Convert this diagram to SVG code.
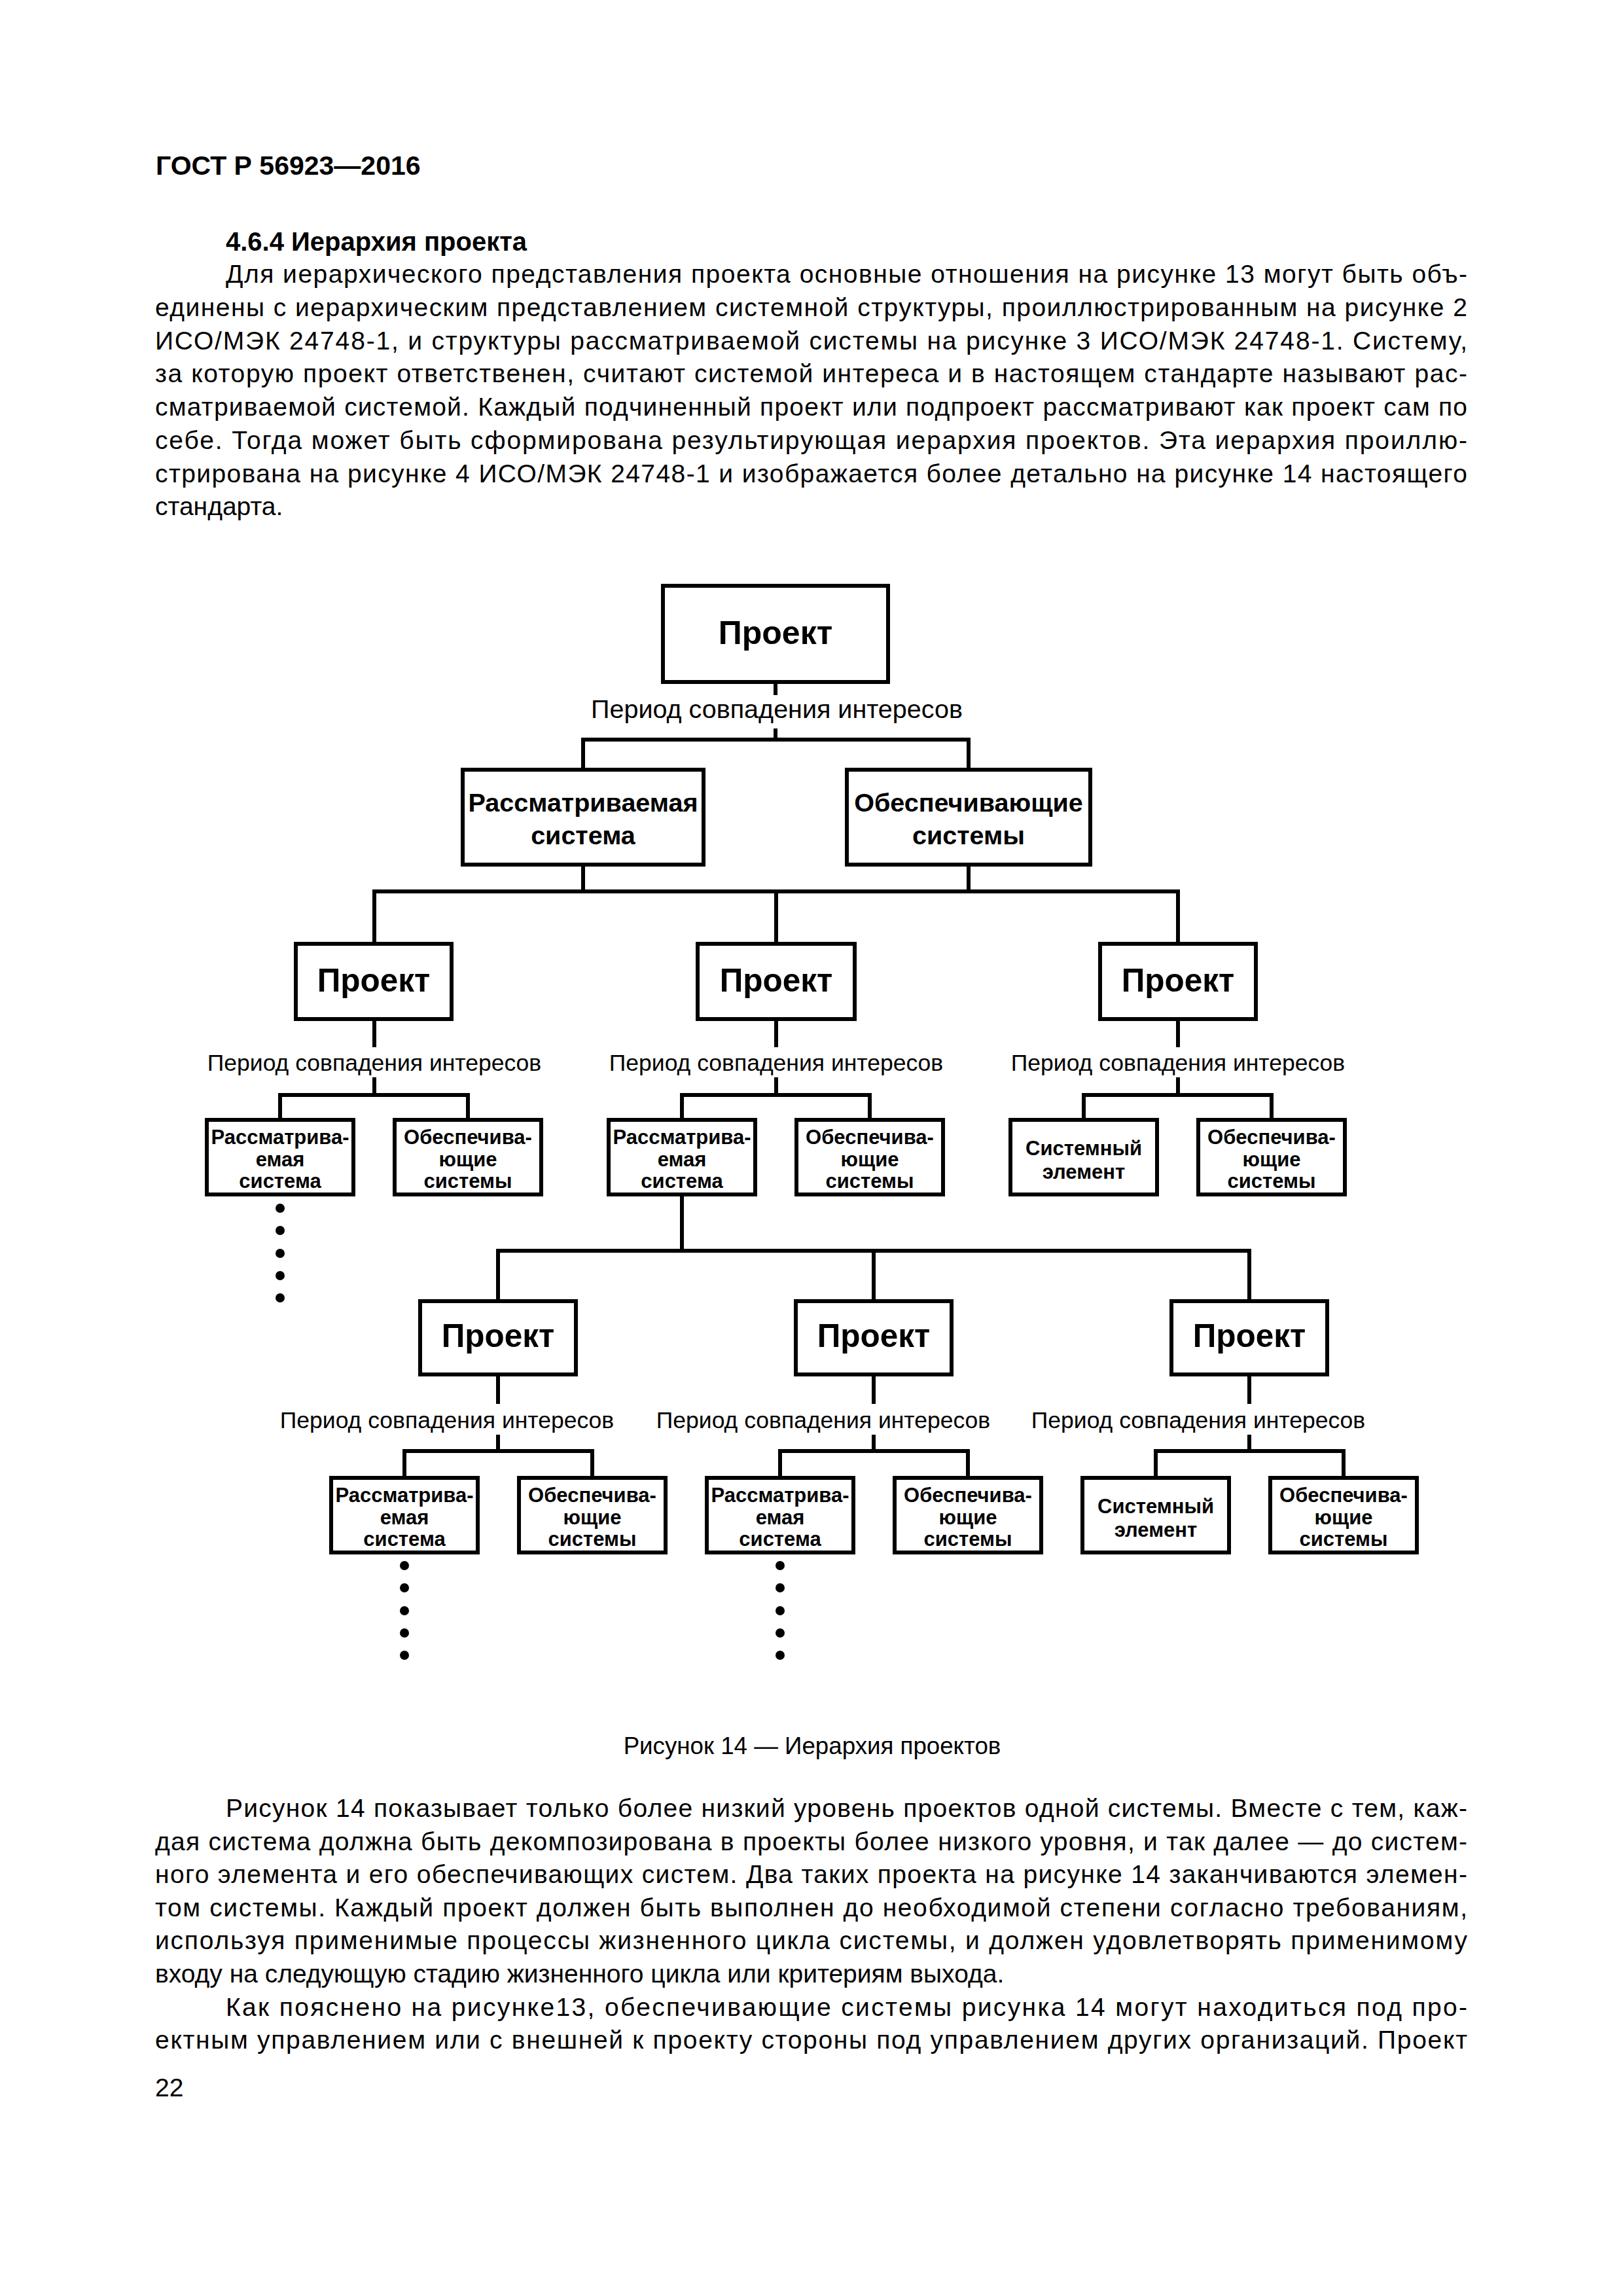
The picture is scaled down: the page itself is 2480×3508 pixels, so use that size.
<svg xmlns="http://www.w3.org/2000/svg" width="2480" height="3508" viewBox="0 0 2480 3508">
<style>
.box{fill:#fff;stroke:#000;stroke-width:6}
.conn{fill:none;stroke:#000;stroke-width:6;stroke-linejoin:miter}
.dot{fill:#000}
text{font-family:"Liberation Sans",Arial,sans-serif;fill:#000}
.pt{font-weight:bold;font-size:49.5px;text-anchor:middle}
.mt{font-weight:bold;font-size:39.5px;text-anchor:middle}
.st{font-weight:bold;font-size:31px;text-anchor:middle}
.lbl{font-size:35.5px;text-anchor:middle}
.lbl0{font-size:39.5px;text-anchor:middle}
.body{font-size:39px}
.hdr{font-weight:bold;font-size:41px}
.cap{font-size:36.7px;text-anchor:middle}
</style>
<rect width="2480" height="3508" fill="#fff"/>
<g id="page-text">
<text class="hdr" x="238" y="267">ГОСТ Р 56923—2016</text>
<text class="hdr" x="345" y="383" style="font-size:40px">4.6.4 Иерархия проекта</text>
<text class="body" x="345" y="432" textLength="1897" lengthAdjust="spacing">Для иерархического представления проекта основные отношения на рисунке 13 могут быть объ-</text>
<text class="body" x="237" y="483" textLength="2005" lengthAdjust="spacing">единены с иерархическим представлением системной структуры, проиллюстрированным на рисунке 2</text>
<text class="body" x="237" y="534" textLength="2005" lengthAdjust="spacing">ИСО/МЭК 24748-1, и структуры рассматриваемой системы на рисунке 3 ИСО/МЭК 24748-1. Систему,</text>
<text class="body" x="237" y="584" textLength="2005" lengthAdjust="spacing">за которую проект ответственен, считают системой интереса и в настоящем стандарте называют рас-</text>
<text class="body" x="237" y="635" textLength="2005" lengthAdjust="spacing">сматриваемой системой. Каждый подчиненный проект или подпроект рассматривают как проект сам по</text>
<text class="body" x="237" y="686" textLength="2005" lengthAdjust="spacing">себе. Тогда может быть сформирована результирующая иерархия проектов. Эта иерархия проиллю-</text>
<text class="body" x="237" y="737" textLength="2005" lengthAdjust="spacing">стрирована на рисунке 4 ИСО/МЭК 24748-1 и изображается более детально на рисунке 14 настоящего</text>
<text class="body" x="237" y="787">стандарта.</text>
<text class="cap" x="1241" y="2680">Рисунок 14 — Иерархия проектов</text>
<text class="body" x="345" y="2776" textLength="1897" lengthAdjust="spacing">Рисунок 14 показывает только более низкий уровень проектов одной системы. Вместе с тем, каж-</text>
<text class="body" x="237" y="2827" textLength="2005" lengthAdjust="spacing">дая система должна быть декомпозирована в проекты более низкого уровня, и так далее — до систем-</text>
<text class="body" x="237" y="2877" textLength="2005" lengthAdjust="spacing">ного элемента и его обеспечивающих систем. Два таких проекта на рисунке 14 заканчиваются элемен-</text>
<text class="body" x="237" y="2928" textLength="2005" lengthAdjust="spacing">том системы. Каждый проект должен быть выполнен до необходимой степени согласно требованиям,</text>
<text class="body" x="237" y="2978" textLength="2005" lengthAdjust="spacing">используя применимые процессы жизненного цикла системы, и должен удовлетворять применимому</text>
<text class="body" x="237" y="3029">входу на следующую стадию жизненного цикла или критериям выхода.</text>
<text class="body" x="345" y="3080" textLength="1897" lengthAdjust="spacing">Как пояснено на рисунке13, обеспечивающие системы рисунка 14 могут находиться под про-</text>
<text class="body" x="237" y="3130" textLength="2005" lengthAdjust="spacing">ектным управлением или с внешней к проекту стороны под управлением других организаций. Проект</text>
<text class="body" x="237" y="3203">22</text>
</g>
<g id="connectors">
<path class="conn" d="M1185 1045V1062M1185 1113V1130M891 1173V1130H1480V1173"/>
<path class="conn" d="M891 1324V1362M1480 1324V1362M572 1439V1362H1800V1439M1186 1362V1439"/>
<path class="conn" d="M572 1560V1600M572 1646V1673M428 1708V1673H715V1708"/>
<path class="conn" d="M1186 1560V1600M1186 1646V1673M1042 1708V1673H1329V1708"/>
<path class="conn" d="M1800 1560V1600M1800 1646V1673M1656 1708V1673H1943V1708"/>
<path class="conn" d="M1042 1828V1911M761 1985V1911H1909V1985M1335 1911V1985"/>
<path class="conn" d="M761 2103V2145M761 2192V2217M618 2255V2217H905V2255"/>
<path class="conn" d="M1335 2103V2145M1335 2192V2217M1192 2255V2217H1479V2255"/>
<path class="conn" d="M1909 2103V2145M1909 2192V2217M1766 2255V2217H2053V2255"/>
</g>
<g id="l0-project">
<rect class="box" x="1013" y="895" width="344" height="147"/>
<text class="pt" x="1185" y="984" style="font-size:50px">Проект</text>
<text class="lbl0" x="1187" y="1097">Период совпадения интересов</text>
</g>
<g id="l1-system">
<rect class="box" x="707" y="1176" width="368" height="145"/>
<text class="mt" x="891" y="1240">Рассматриваемая</text>
<text class="mt" x="891" y="1290">система</text>
</g>
<g id="l1-enabling">
<rect class="box" x="1294" y="1176" width="372" height="145"/>
<text class="mt" x="1480" y="1240">Обеспечивающие</text>
<text class="mt" x="1480" y="1290">системы</text>
</g>
<g id="l2-project-left">
<rect class="box" x="452" y="1442" width="238" height="115"/>
<text class="pt" x="571" y="1515">Проект</text>
<text class="lbl" x="572" y="1636">Период совпадения интересов</text>
</g>
<g id="l2-project-mid">
<rect class="box" x="1066" y="1442" width="240" height="115"/>
<text class="pt" x="1186" y="1515">Проект</text>
<text class="lbl" x="1186" y="1636">Период совпадения интересов</text>
</g>
<g id="l2-project-right">
<rect class="box" x="1681" y="1442" width="238" height="115"/>
<text class="pt" x="1800" y="1515">Проект</text>
<text class="lbl" x="1800" y="1636">Период совпадения интересов</text>
</g>
<g id="l2-left-system">
<rect class="box" x="316" y="1711" width="224" height="114"/>
<text class="st" x="428" y="1748">Рассматрива-</text>
<text class="st" x="428" y="1782">емая</text>
<text class="st" x="428" y="1815">система</text>
<circle class="dot" cx="428" cy="1846" r="7"/><circle class="dot" cx="428" cy="1880" r="7"/><circle class="dot" cx="428" cy="1915" r="7"/><circle class="dot" cx="428" cy="1949" r="7"/><circle class="dot" cx="428" cy="1983" r="7"/>
</g>
<g id="l2-left-enabling">
<rect class="box" x="603" y="1711" width="224" height="114"/>
<text class="st" x="715" y="1748">Обеспечива-</text>
<text class="st" x="715" y="1782">ющие</text>
<text class="st" x="715" y="1815">системы</text>
</g>
<g id="l2-mid-system">
<rect class="box" x="930" y="1711" width="224" height="114"/>
<text class="st" x="1042" y="1748">Рассматрива-</text>
<text class="st" x="1042" y="1782">емая</text>
<text class="st" x="1042" y="1815">система</text>
</g>
<g id="l2-mid-enabling">
<rect class="box" x="1217" y="1711" width="224" height="114"/>
<text class="st" x="1329" y="1748">Обеспечива-</text>
<text class="st" x="1329" y="1782">ющие</text>
<text class="st" x="1329" y="1815">системы</text>
</g>
<g id="l2-right-element">
<rect class="box" x="1544" y="1711" width="224" height="114"/>
<text class="st" x="1656" y="1765">Системный</text>
<text class="st" x="1656" y="1801">элемент</text>
</g>
<g id="l2-right-enabling">
<rect class="box" x="1831" y="1711" width="224" height="114"/>
<text class="st" x="1943" y="1748">Обеспечива-</text>
<text class="st" x="1943" y="1782">ющие</text>
<text class="st" x="1943" y="1815">системы</text>
</g>
<g id="l3-project-left">
<rect class="box" x="642" y="1988" width="238" height="112"/>
<text class="pt" x="761" y="2058">Проект</text>
<text class="lbl" x="683" y="2182">Период совпадения интересов</text>
</g>
<g id="l3-project-mid">
<rect class="box" x="1216" y="1988" width="238" height="112"/>
<text class="pt" x="1335" y="2058">Проект</text>
<text class="lbl" x="1258" y="2182">Период совпадения интересов</text>
</g>
<g id="l3-project-right">
<rect class="box" x="1790" y="1988" width="238" height="112"/>
<text class="pt" x="1909" y="2058">Проект</text>
<text class="lbl" x="1831" y="2182">Период совпадения интересов</text>
</g>
<g id="l3-left-system">
<rect class="box" x="506" y="2258" width="224" height="114"/>
<text class="st" x="618" y="2295">Рассматрива-</text>
<text class="st" x="618" y="2329">емая</text>
<text class="st" x="618" y="2362">система</text>
<circle class="dot" cx="618" cy="2392" r="7"/><circle class="dot" cx="618" cy="2426" r="7"/><circle class="dot" cx="618" cy="2461" r="7"/><circle class="dot" cx="618" cy="2495" r="7"/><circle class="dot" cx="618" cy="2529" r="7"/>
</g>
<g id="l3-left-enabling">
<rect class="box" x="793" y="2258" width="224" height="114"/>
<text class="st" x="905" y="2295">Обеспечива-</text>
<text class="st" x="905" y="2329">ющие</text>
<text class="st" x="905" y="2362">системы</text>
</g>
<g id="l3-mid-system">
<rect class="box" x="1080" y="2258" width="224" height="114"/>
<text class="st" x="1192" y="2295">Рассматрива-</text>
<text class="st" x="1192" y="2329">емая</text>
<text class="st" x="1192" y="2362">система</text>
<circle class="dot" cx="1192" cy="2392" r="7"/><circle class="dot" cx="1192" cy="2426" r="7"/><circle class="dot" cx="1192" cy="2461" r="7"/><circle class="dot" cx="1192" cy="2495" r="7"/><circle class="dot" cx="1192" cy="2529" r="7"/>
</g>
<g id="l3-mid-enabling">
<rect class="box" x="1367" y="2258" width="224" height="114"/>
<text class="st" x="1479" y="2295">Обеспечива-</text>
<text class="st" x="1479" y="2329">ющие</text>
<text class="st" x="1479" y="2362">системы</text>
</g>
<g id="l3-right-element">
<rect class="box" x="1654" y="2258" width="224" height="114"/>
<text class="st" x="1766" y="2312">Системный</text>
<text class="st" x="1766" y="2348">элемент</text>
</g>
<g id="l3-right-enabling">
<rect class="box" x="1941" y="2258" width="224" height="114"/>
<text class="st" x="2053" y="2295">Обеспечива-</text>
<text class="st" x="2053" y="2329">ющие</text>
<text class="st" x="2053" y="2362">системы</text>
</g>
</svg>
